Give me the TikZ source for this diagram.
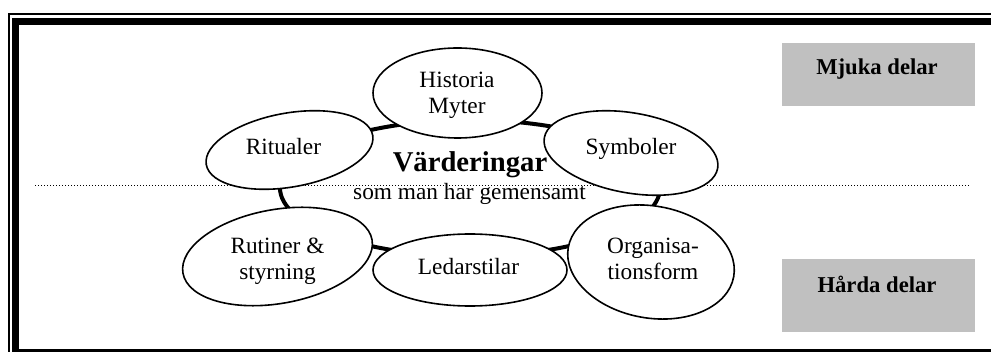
\documentclass[tikz,border=0pt]{standalone}
\usepackage{fontspec}
\setmainfont{Liberation Serif}
\usetikzlibrary{shapes.geometric}
\definecolor{boxgray}{HTML}{C0C0C0}
\newcommand\twolines[2]{\begin{tabular}[t]{@{}c@{}}#1\\#2\end{tabular}}
\begin{document}
\begin{tikzpicture}[x=0.75pt,y=-0.75pt,
  bubble/.style={ellipse, draw, line width=1.2pt, fill=white, inner sep=0pt},
  lbl/.style={font=\fontsize{17.5}{19}\selectfont, inner sep=0pt, anchor=base},
  tag/.style={font=\bfseries\fontsize{17}{19}\selectfont, inner sep=0pt, anchor=base},
  side/.style={fill=boxgray, draw=none, inner sep=0pt, minimum width=144.75pt, minimum height=47.25pt},
  ring/.style={ellipse, draw, line width=3pt, inner sep=0pt},
  divider/.style={line width=0.75pt, dash pattern=on 0.75pt off 1.5pt}]
\useasboundingbox (0,0) rectangle (991,352);

% double frame (thin outer line, heavy inner line)
\draw[line width=1.5pt] (9,360) -- (9,14) -- (1000,14);
\draw[line width=5.25pt] (15.5,360) -- (15.5,21.5) -- (1000,21.5);
\draw[line width=5.25pt] (15.5,352.5) -- (1000,352.5);

% side labels
\node[side] (soft) at (878.5,74.5) {};
\node[tag] (softtxt) at (877,75) {Mjuka delar};
\node[side, minimum height=54.75pt] (hard) at (878.5,295.5) {};
\node[tag] (hardtxt) at (877,293) {Hårda delar};

% ring joining the six parts
\node[ring, minimum width=285pt, minimum height=102pt] (core) at (470,188) {};

% dotted divider between soft and hard parts
\coordinate (divL) at (35,186);
\coordinate (divR) at (970,186);
\draw[divider] (divL) -- (divR);

% the six parts
\node[bubble, minimum width=126.75pt, minimum height=67.5pt] (hist) at (457.5,93) {};
\node[bubble, minimum width=126.75pt, minimum height=55.5pt, rotate=10] (rit) at (289.5,150) {};
\node[bubble, minimum width=132pt, minimum height=60pt, rotate=-10] (sym) at (631,153) {};
\node[bubble, minimum width=144pt, minimum height=70.5pt, rotate=10] (rut) at (277.5,256.5) {};
\node[bubble, minimum width=145.5pt, minimum height=54pt] (led) at (470,270) {};
\node[bubble, minimum width=126pt, minimum height=84pt, rotate=-10] (org) at (651,262) {};

% texts
\node[lbl] (histtxt) at (457,88) {\twolines{Historia}{Myter}};
\node[lbl] (rittxt) at (283.5,155) {Ritualer};
\node[lbl] (symtxt) at (631,155) {Symboler};
\node[lbl] (ruttxt) at (277.5,254) {\twolines{Rutiner \&}{styrning}};
\node[lbl] (ledtxt) at (468.5,275) {Ledarstilar};
\node[lbl] (orgtxt) at (653,254) {\twolines{Organisa-}{tionsform}};

\node[font=\bfseries\fontsize{21.5}{24}\selectfont, inner sep=0pt, anchor=base] (val) at (470,172) {Värderingar};
\node[lbl] (valsub) at (469.5,200) {som man har gemensamt};
\end{tikzpicture}
\end{document}
